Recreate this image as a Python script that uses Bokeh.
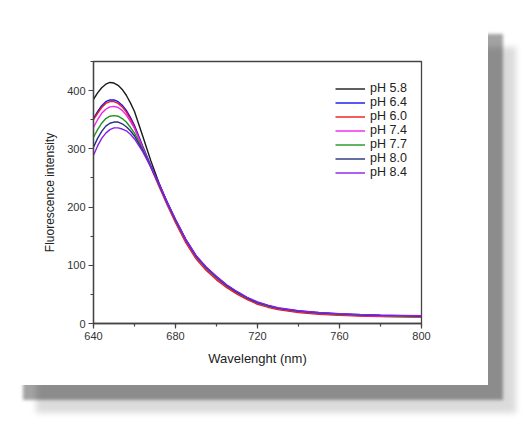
from bokeh.plotting import figure
from bokeh.embed import file_html
from bokeh.resources import INLINE
from bokeh.models import Range1d, SingleIntervalTicker, Legend

wavelength = [640, 642, 644, 646, 648, 650, 652, 654, 656, 658, 660, 664, 668, 672,
              676, 680, 685, 690, 695, 700, 705, 710, 715, 720, 725, 730, 740, 750, 760, 770, 780, 790, 800]

ph_5_8 = [385, 396, 405, 411, 414, 413, 409, 402, 392, 379, 364, 322, 279, 241,
          207, 177, 143, 115, 94, 78, 64, 52.5, 42.5, 34.5, 29, 25, 20, 17, 15, 13.5, 12.5, 12, 11.5]
ph_6_4 = [352, 364, 374, 381, 384, 384, 381, 375, 366, 354, 340, 305, 271, 239,
          208, 178, 144, 116, 96, 80, 65.5, 54, 44, 36, 30.5, 26, 21, 18, 16, 14.5, 13.5, 13, 12.5]
ph_6_0 = [350, 361, 371, 378, 381, 381, 378, 372, 363, 351, 337, 302, 268, 235,
          203, 173, 139, 111, 91, 75, 61.5, 50.5, 41, 33, 28, 24, 19, 16, 14, 13, 12, 11.5, 11]
ph_7_4 = [337, 350, 361, 368, 372, 373, 371, 366, 358, 347, 335, 302, 269, 237,
          205, 176, 142, 114, 94, 78, 64, 53, 43, 35, 29.5, 25.5, 20.5, 17.5, 15.5, 14, 13, 12.5, 12]
ph_7_7 = [320, 333, 344, 352, 356, 357, 356, 352, 346, 337, 327, 299, 269, 238,
          206, 177, 143, 115, 95, 79, 64.5, 53.5, 43.5, 35.5, 30, 26, 21, 18, 16, 14.5, 13.5, 13, 12.5]
ph_8_0 = [303, 318, 330, 339, 344, 346, 346, 343, 338, 331, 322, 297, 269, 239,
          207, 178, 144, 116, 96, 80, 65.5, 54, 44, 36, 31, 26.5, 21.5, 18.5, 16.5, 15, 14, 13.5, 13]
ph_8_4 = [289, 305, 318, 327, 333, 336, 336, 334, 331, 325, 317, 295, 269, 240,
          208, 179, 145, 117, 97, 81, 66.5, 55, 45, 37, 31.5, 27, 22, 19, 17, 15.5, 14.5, 14, 13.5]

labels = ["pH 5.8", "pH 6.4", "pH 6.0", "pH 7.4", "pH 7.7", "pH 8.0", "pH 8.4"]
series = [ph_5_8, ph_6_4, ph_6_0, ph_7_4, ph_7_7, ph_8_0, ph_8_4]
colors = ["#1a1a1a", "#1010f0", "#f01818", "#f020f0", "#1f961f", "#24307f", "#8a1cf0"]

FONT = "Liberation Sans"

p = figure(width=480, height=366, output_backend="svg", toolbar_location=None,
           x_range=Range1d(640, 800), y_range=Range1d(0, 450),
           min_border_left=85, min_border_right=67, min_border_top=42, min_border_bottom=62,
           margin=(19, 0, 0, 8),
           styles={"box-shadow": "15px 15px 3px rgba(0,0,0,0.36), 28px 28px 6px rgba(0,0,0,0.14)"})
p.background_fill_color = "white"
p.border_fill_color = "white"
p.grid.visible = False
p.outline_line_color = "#444444"
p.outline_line_width = 1.3

renderers = []
for lab, ys, c in zip(labels, series, colors):
    r = p.line(wavelength, ys, line_color=c, line_width=1.4)
    renderers.append((lab, [r]))

legend = Legend(items=renderers, location=(242, 144), border_line_color=None,
                background_fill_alpha=0, padding=0, margin=0, spacing=0,
                glyph_width=30, glyph_height=13, label_height=13, label_standoff=5,
                label_text_font=FONT, label_text_font_size="12.5px", label_text_color="#222222")
p.add_layout(legend, "center")

for ax in (p.xaxis[0], p.yaxis[0]):
    ax.axis_line_color = "#444444"
    ax.axis_line_width = 1.3
    ax.major_tick_line_color = "#444444"
    ax.minor_tick_line_color = "#444444"
    ax.major_tick_line_width = 1.2
    ax.minor_tick_line_width = 1.2
    ax.major_tick_out = 5
    ax.major_tick_in = 0
    ax.minor_tick_out = 3
    ax.minor_tick_in = 0
    ax.major_label_text_font = FONT
    ax.major_label_text_font_size = "11px"
    ax.major_label_text_color = "#333333"
    ax.axis_label_text_font = FONT
    ax.axis_label_text_font_style = "normal"
    ax.axis_label_text_color = "#222222"

p.xaxis[0].ticker = SingleIntervalTicker(interval=40, num_minor_ticks=2)
p.yaxis[0].ticker = SingleIntervalTicker(interval=100, num_minor_ticks=2)
p.xaxis[0].axis_label = "Wavelenght (nm)"
p.yaxis[0].axis_label = "Fluorescence intensity"
p.xaxis[0].axis_label_text_font_size = "13px"
p.yaxis[0].axis_label_text_font_size = "12px"
p.xaxis[0].major_label_standoff = 3
p.yaxis[0].major_label_standoff = 3
p.xaxis[0].axis_label_standoff = 8
p.yaxis[0].axis_label_standoff = 7

open("out.html", "w").write(file_html(p, INLINE))
